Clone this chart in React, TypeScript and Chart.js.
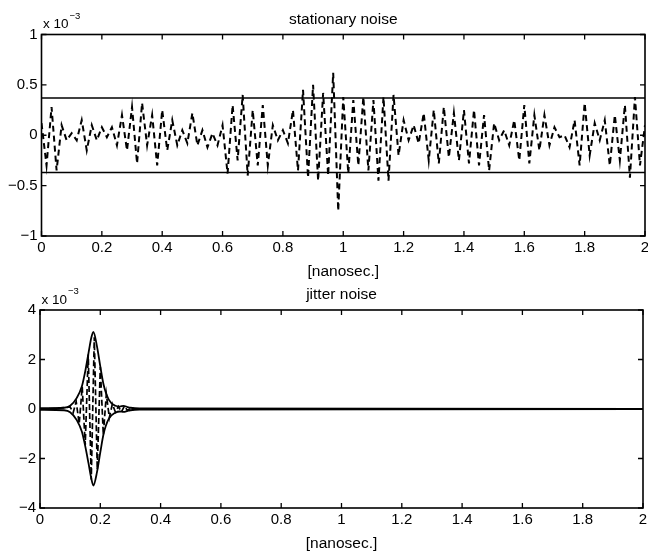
import React, { useEffect, useRef } from 'react';
import { Chart, registerables } from 'chart.js';

Chart.register(...registerables);

// ---------- data ----------
const X_TICKS = [0, 0.2, 0.4, 0.6, 0.8, 1, 1.2, 1.4, 1.6, 1.8, 2];
const X_TICK_LABELS = ['0', '0.2', '0.4', '0.6', '0.8', '1', '1.2', '1.4', '1.6', '1.8', '2'];
const TOP_Y_TICKS = [-1, -0.5, 0, 0.5, 1];
const TOP_Y_TICK_LABELS = ['\u22121', '\u22120.5', '0', '0.5', '1'];
const BOTTOM_Y_TICKS = [-4, -2, 0, 2, 4];
const BOTTOM_Y_TICK_LABELS = ['\u22124', '\u22122', '0', '2', '4'];

// stationary noise (x 10^-3), one extremum every 1/60 ns from 0 to 2 ns
const SAMPLES_PER_NS = 60;
const STATIONARY_NOISE = [
  0.12, -0.3, 0.28, -0.35, 0.1, -0.05, 0.02, -0.05, 0.15, -0.15,
  0.1, -0.05, 0.08, -0.02, 0.08, -0.1, 0.2, -0.15, 0.28, -0.28,
  0.32, -0.1, 0.2, -0.3, 0.25, -0.15, 0.15, -0.1, 0.05, -0.08,
  0.22, -0.1, 0.05, -0.12, 0.02, -0.1, 0.1, -0.38, 0.3, -0.25,
  0.4, -0.4, 0.25, -0.3, 0.3, -0.3, 0.1, -0.05, 0.05, -0.08,
  0.25, -0.35, 0.45, -0.42, 0.5, -0.45, 0.42, -0.4, 0.62, -0.75,
  0.38, -0.38, 0.35, -0.3, 0.38, -0.35, 0.35, -0.45, 0.38, -0.45,
  0.4, -0.2, 0.15, -0.05, 0.1, -0.08, 0.22, -0.25, 0.25, -0.28,
  0.28, -0.22, 0.22, -0.25, 0.25, -0.28, 0.25, -0.3, 0.2, -0.35,
  0.12, -0.05, 0.05, -0.1, 0.15, -0.25, 0.3, -0.28, 0.2, -0.15,
  0.2, -0.1, 0.08, -0.02, 0.0, -0.12, 0.15, -0.3, 0.32, -0.2,
  0.12, -0.05, 0.15, -0.3, 0.2, -0.25, 0.3, -0.42, 0.38, -0.3,
  0.1,
];
const THRESHOLD = 0.37;

// jitter noise (x 10^-3)
const JITTER_T = [0, 0.05, 0.1, 0.11, 0.12, 0.13, 0.14, 0.15, 0.16, 0.17, 0.18, 0.19, 0.2, 0.21, 0.22, 0.23, 0.24, 0.25, 0.26, 0.27, 0.28, 0.29, 0.3, 0.32, 2];
const JITTER_V = [0, 0.02, 0.08, -0.15, 0.3, -0.6, 0.9, -1.45, 2.2, -2.85, 2.9, -2.45, 1.7, -1.05, 0.6, -0.35, 0.2, -0.12, 0.1, -0.12, 0.12, -0.06, 0.03, 0, 0];
const ENV_T = [0, 0.08, 0.1, 0.122, 0.139, 0.15, 0.161, 0.17, 0.177, 0.189, 0.2, 0.211, 0.228, 0.25, 0.265, 0.277, 0.29, 0.3, 0.33, 2];
const ENV_UPPER = [0.03, 0.05, 0.13, 0.45, 0.92, 1.52, 2.27, 2.87, 3.12, 2.53, 1.72, 0.98, 0.38, 0.13, 0.1, 0.13, 0.08, 0.05, 0.02, 0];
const ENV_LOWER = [-0.03, -0.05, -0.13, -0.45, -0.92, -1.5, -2.2, -2.8, -3.09, -2.55, -1.75, -1.0, -0.4, -0.15, -0.1, -0.12, -0.08, -0.05, -0.02, 0];

const FONT = '"Liberation Sans", Arial, Helvetica, sans-serif';

// ---------- plugin: MATLAB-like box, inward ticks and texts ----------
const framePlugin = {
  id: 'matlabFrame',
  afterDraw(chart: any, _args: any, opts: any) {
    const { ctx, chartArea: a, scales } = chart;
    ctx.save();
    ctx.strokeStyle = '#000';
    ctx.lineWidth = 1.6;
    ctx.strokeRect(a.left, a.top, a.right - a.left, a.bottom - a.top);
    const tl = 5;
    ctx.lineWidth = 1.3;
    ctx.beginPath();
    for (const v of opts.xTicks) {
      const px = scales.x.getPixelForValue(v);
      ctx.moveTo(px, a.bottom);
      ctx.lineTo(px, a.bottom - tl);
      ctx.moveTo(px, a.top);
      ctx.lineTo(px, a.top + tl);
    }
    for (const v of opts.yTicks) {
      const py = scales.y.getPixelForValue(v);
      ctx.moveTo(a.left, py);
      ctx.lineTo(a.left + tl, py);
      ctx.moveTo(a.right, py);
      ctx.lineTo(a.right - tl, py);
    }
    ctx.stroke();

    ctx.fillStyle = '#000';
    ctx.textAlign = 'center';
    ctx.textBaseline = 'middle';
    ctx.font = `15.5px ${FONT}`;
    const cx = (a.left + a.right) / 2;
    ctx.fillText(opts.title, cx, a.top - 15);
    ctx.fillText(opts.xLabel, cx, a.bottom + 36);

    ctx.textAlign = 'left';
    ctx.font = `13.5px ${FONT}`;
    const x0 = a.left + 1.5;
    ctx.fillText('x 10', x0, a.top - 10);
    const w = ctx.measureText('x 10').width;
    ctx.font = `9.5px ${FONT}`;
    ctx.fillText('\u22123', x0 + w + 1, a.top - 18.5);
    ctx.restore();
  },
};

function makeOptions(p: {
  padTop: number; padRight: number; yWidth: number; xHeight: number;
  yMin: number; yMax: number; yTicks: number[]; yLabels: string[];
  title: string;
}) {
  return {
    animation: false,
    responsive: false,
    events: [],
    layout: { padding: { top: p.padTop, right: p.padRight, left: 0, bottom: 0 } },
    plugins: {
      legend: { display: false },
      tooltip: { enabled: false },
      matlabFrame: { xTicks: X_TICKS, yTicks: p.yTicks, title: p.title, xLabel: '[nanosec.]' },
    },
    scales: {
      x: {
        type: 'linear',
        min: 0,
        max: 2,
        afterBuildTicks: (s: any) => { s.ticks = X_TICKS.map((v) => ({ value: v })); },
        afterFit: (s: any) => { s.height = p.xHeight; s.paddingLeft = 0; s.paddingRight = 0; },
        ticks: {
          padding: 3,
          color: '#000',
          font: { size: 15, family: FONT },
          maxRotation: 0,
          autoSkip: false,
          callback: (_v: any, i: number) => X_TICK_LABELS[i],
        },
        grid: { display: false, drawTicks: false },
        border: { display: false },
      },
      y: {
        type: 'linear',
        min: p.yMin,
        max: p.yMax,
        afterBuildTicks: (s: any) => { s.ticks = p.yTicks.map((v) => ({ value: v })); },
        afterFit: (s: any) => { s.width = p.yWidth; s.paddingTop = 0; s.paddingBottom = 0; },
        ticks: {
          padding: 4,
          color: '#000',
          font: { size: 15, family: FONT },
          autoSkip: false,
          callback: (_v: any, i: number) => p.yLabels[i],
        },
        grid: { display: false, drawTicks: false },
        border: { display: false },
      },
    },
  } as any;
}

const lineStyle = { borderColor: '#000', pointRadius: 0, fill: false };

export default function App() {
  const topRef = useRef<HTMLCanvasElement | null>(null);
  const botRef = useRef<HTMLCanvasElement | null>(null);

  useEffect(() => {
    const top = new Chart(topRef.current as HTMLCanvasElement, {
      type: 'line',
      data: {
        datasets: [
          {
            ...lineStyle,
            data: STATIONARY_NOISE.map((v, i) => ({ x: i / SAMPLES_PER_NS, y: v })),
            borderWidth: 2,
            borderDash: [6, 4],
            tension: 0,
          },
          { ...lineStyle, data: [{ x: 0, y: THRESHOLD }, { x: 2, y: THRESHOLD }], borderWidth: 1.6 },
          { ...lineStyle, data: [{ x: 0, y: -THRESHOLD }, { x: 2, y: -THRESHOLD }], borderWidth: 1.6 },
        ],
      },
      options: makeOptions({
        padTop: 34.5, padRight: 3, yWidth: 41.5, xHeight: 285 - 236,
        yMin: -1, yMax: 1, yTicks: TOP_Y_TICKS, yLabels: TOP_Y_TICK_LABELS,
        title: 'stationary noise',
      }),
      plugins: [framePlugin],
    } as any);

    const bot = new Chart(botRef.current as HTMLCanvasElement, {
      type: 'line',
      data: {
        datasets: [
          {
            ...lineStyle,
            data: JITTER_T.map((t, i) => ({ x: t, y: JITTER_V[i] })),
            borderWidth: 1.7,
            borderDash: [6, 3],
            tension: 0,
          },
          {
            ...lineStyle,
            data: ENV_T.map((t, i) => ({ x: t, y: ENV_UPPER[i] })),
            borderWidth: 1.8,
            cubicInterpolationMode: 'monotone',
          },
          {
            ...lineStyle,
            data: ENV_T.map((t, i) => ({ x: t, y: ENV_LOWER[i] })),
            borderWidth: 1.8,
            cubicInterpolationMode: 'monotone',
          },
        ],
      },
      options: makeOptions({
        padTop: 25, padRight: 5, yWidth: 40, xHeight: 268 - 223,
        yMin: -4, yMax: 4, yTicks: BOTTOM_Y_TICKS, yLabels: BOTTOM_Y_TICK_LABELS,
        title: 'jitter noise',
      }),
      plugins: [framePlugin],
    } as any);

    return () => {
      top.destroy();
      bot.destroy();
    };
  }, []);

  return (
    <div style={{ position: 'absolute', left: 0, top: 0, width: 648, height: 553, background: '#fff' }}>
      <canvas ref={topRef} width={648} height={285} style={{ position: 'absolute', left: 0, top: 0, display: 'block' }} />
      <canvas ref={botRef} width={648} height={268} style={{ position: 'absolute', left: 0, top: 285, display: 'block' }} />
    </div>
  );
}
